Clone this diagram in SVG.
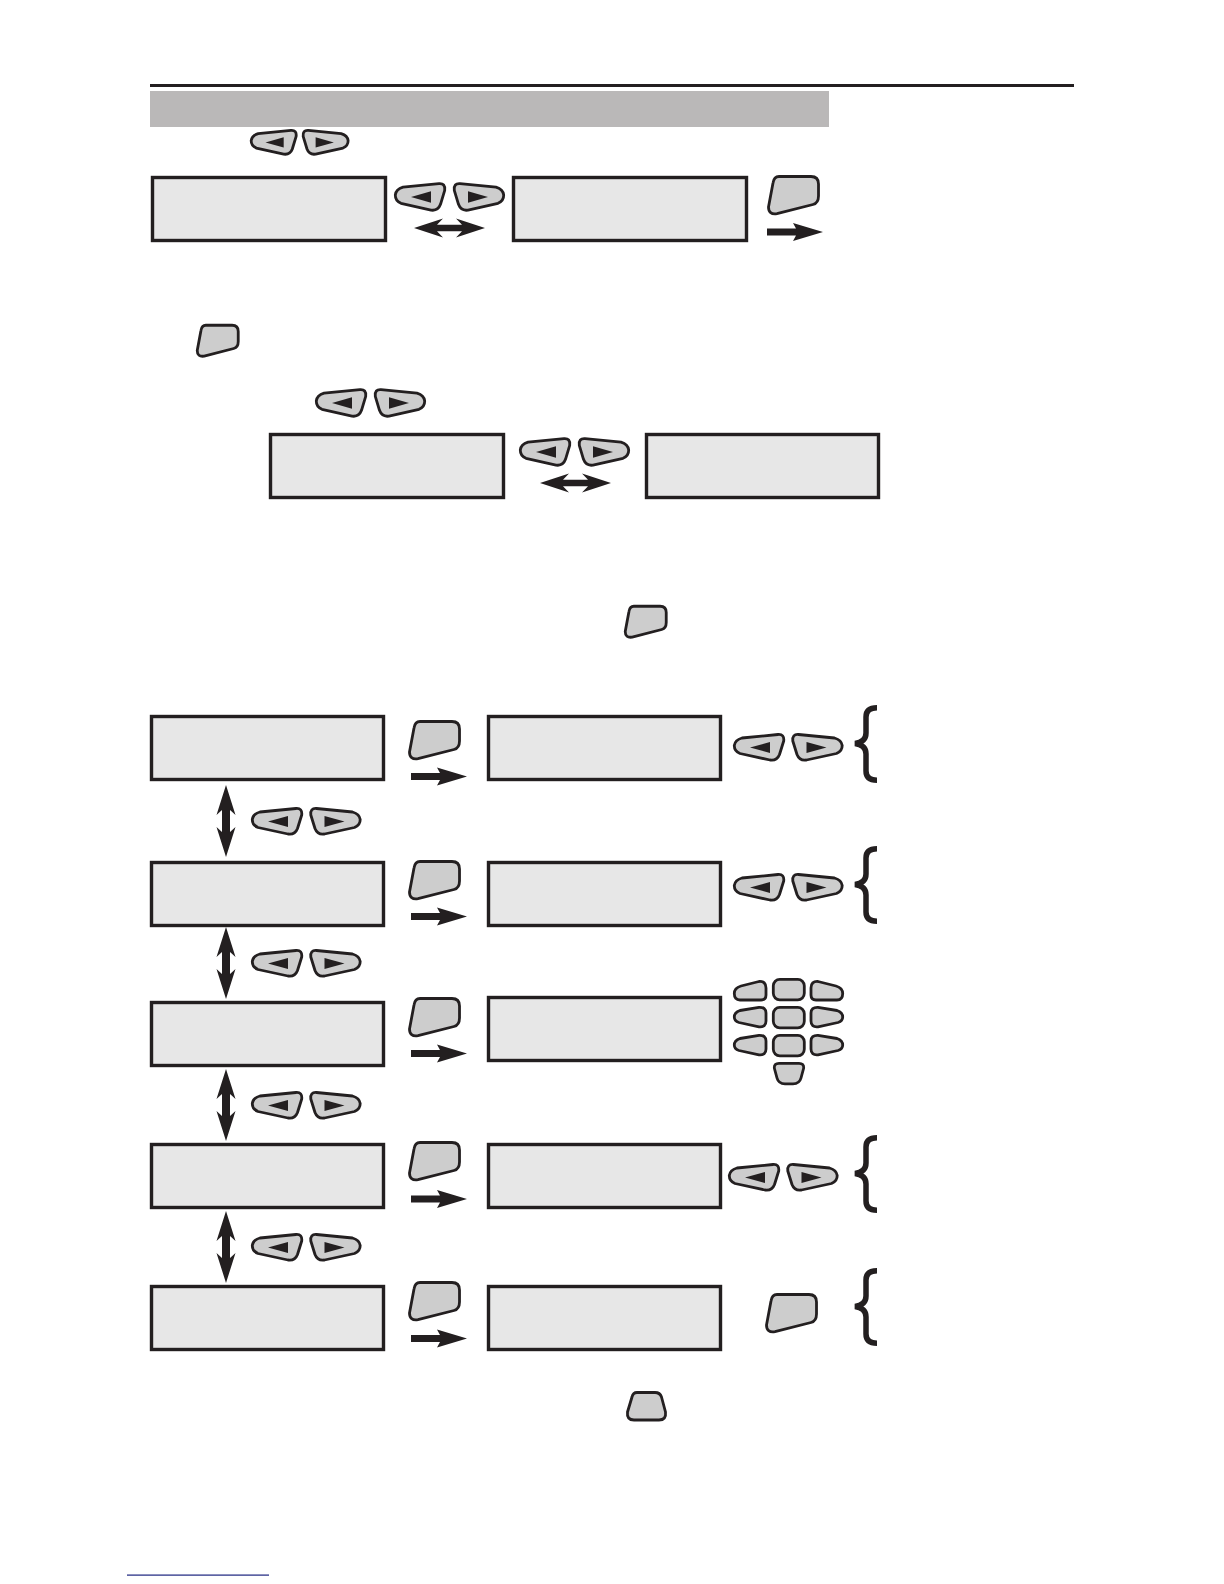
<svg xmlns="http://www.w3.org/2000/svg" width="1224" height="1584" viewBox="0 0 1224 1584">
<style>
.lcd{fill:#e7e7e7;stroke:#231f20;stroke-width:3.400}
.k{fill:#cdcdcd;stroke:#231f20;stroke-width:2.800;vector-effect:non-scaling-stroke;stroke-linejoin:round}
.t{fill:#231f20}
.c{fill:#231f20}
</style>
<defs>
<g id="kl"><path class="k" d="M9 5 L45 1.500 Q51.500 1 50.700 8 L46.500 21.500 Q44 28 37 27 L7 20.500 Q1.200 18 1.300 12.500 Q2 7 9 5Z"/><path class="t" d="M17 14.500 L37 9 V20Z"/></g>
<g id="kr"><path class="k" d="M43 5 L7 1.500 Q0.500 1 1.300 8 L5.500 21.500 Q8 28 15 27 L45 20.500 Q50.800 18 50.700 12.500 Q50 7 43 5Z"/><path class="t" d="M35 14.500 L15 9 V20Z"/></g>
<path id="ok" class="k" d="M12 1.500 H44 Q51.500 1.500 51.500 9 V21 Q51.500 28 46 29.500 L10 38.700 Q1.500 40 1.500 32 L6 8 Q7 1.500 12 1.500Z"/>
<path id="ra" class="c" d="M0 -3.500 H29 L26 -9 L56 0 L26 9 L29 3.500 H0Z"/>
<path id="da" class="c" d="M0 0 L29 -9.500 L23 -3.300 H48 L42 -9.500 L71 0 L42 9.500 L48 3.300 H23 L29 9.500Z"/>
<path id="va" class="c" d="M0 0 L9.500 30 L4 25 V47 L9.500 42 L0 72 L-9.500 42 L-4 47 V25 L-9.500 30Z"/>
<path id="br" fill="none" stroke="#231f20" stroke-width="5.500" d="M23 2.800 Q12 2.800 12 12 V28 Q12 37 1 38.500 Q12 40 12 49 V66 Q12 75.200 23 75.200"/>
<path id="pa" class="k" d="M8 6 L26 1.500 Q33 1 33 8 V15 Q33 20 28 20 H7 Q1.300 20 1.300 13.500 Q1.300 8 8 6Z"/>
<path id="pb" class="k" d="M26 6 L8 1.500 Q1 1 1 8 V15 Q1 20 6 20 H27 Q32.700 20 32.700 13.500 Q32.700 8 26 6Z"/>
<path id="pc" class="k" d="M7 4.500 L26 1.300 Q33 1 33 7 V15 Q33 21.500 26 20.800 L6 16.500 Q1.300 15 1.300 11 Q1.300 6.500 7 4.500Z"/>
<path id="pd" class="k" d="M27 4.500 L8 1.300 Q1 1 1 7 V15 Q1 21.500 8 20.800 L28 16.500 Q32.700 15 32.700 11 Q32.700 6.500 27 4.500Z"/>
<rect id="pe" class="k" x="1.300" y="1.300" width="31" height="20.500" rx="6.500"/>
<path id="pf" class="k" d="M6 1.300 H26 Q31 1.300 30.700 6 L28 16 Q26.500 21.800 20 21.800 H12 Q5.500 21.800 4 16 L1.300 6 Q1 1.300 6 1.300Z"/>
</defs>

<g id="header">
<rect x="150" y="84" width="924" height="3" fill="#231f20"/>
<rect x="150" y="91" width="679" height="36" fill="#bab8b8"/>
</g>

<g id="displays">
<rect id="lcd-a" class="lcd" x="152.500" y="177.500" width="233" height="63"/>
<rect id="lcd-b" class="lcd" x="513.500" y="177.500" width="233" height="63"/>
<rect id="lcd-c" class="lcd" x="270.500" y="434.500" width="233" height="63"/>
<rect id="lcd-d" class="lcd" x="646.500" y="434.500" width="232" height="63"/>
<rect id="lcd-l1" class="lcd" x="151.500" y="716.500" width="232" height="63"/>
<rect id="lcd-l2" class="lcd" x="151.500" y="862.500" width="232" height="63"/>
<rect id="lcd-l3" class="lcd" x="151.500" y="1002.500" width="232" height="63"/>
<rect id="lcd-l4" class="lcd" x="151.500" y="1144.500" width="232" height="63"/>
<rect id="lcd-l5" class="lcd" x="151.500" y="1286.500" width="232" height="63"/>
<rect id="lcd-r1" class="lcd" x="488.500" y="716.500" width="232" height="63"/>
<rect id="lcd-r2" class="lcd" x="488.500" y="862.500" width="232" height="63"/>
<rect id="lcd-r3" class="lcd" x="488.500" y="997.500" width="232" height="63"/>
<rect id="lcd-r4" class="lcd" x="488.500" y="1144.500" width="232" height="63"/>
<rect id="lcd-r5" class="lcd" x="488.500" y="1286.500" width="232" height="63"/>
</g>

<g id="connectors">
<use href="#da" transform="translate(414,228)"/>
<use href="#da" transform="translate(540,483)"/>
<use href="#ra" transform="translate(767,232)"/>
<use href="#ra" transform="translate(411,776.500)"/>
<use href="#ra" transform="translate(411,916.500)"/>
<use href="#ra" transform="translate(411,1053.500)"/>
<use href="#ra" transform="translate(411,1199)"/>
<use href="#ra" transform="translate(411,1338.500)"/>
<use href="#va" transform="translate(226,785)"/>
<use href="#va" transform="translate(226,927)"/>
<use href="#va" transform="translate(226,1069)"/>
<use href="#va" transform="translate(226,1211)"/>
</g>

<g id="keys-arrows">
<g id="pair-a"><use href="#kl" transform="translate(250,129) scale(.91,.93)"/><use href="#kr" transform="translate(302,129) scale(.91,.93)"/></g>
<g id="pair-b"><use href="#kl" transform="translate(394,182) scale(1,1.04)"/><use href="#kr" transform="translate(453,182) scale(1,1.04)"/></g>
<g id="pair-c"><use href="#kl" transform="translate(315,388) scale(1,1.04)"/><use href="#kr" transform="translate(374,388) scale(1,1.04)"/></g>
<g id="pair-d"><use href="#kl" transform="translate(519,437) scale(1,1.04)"/><use href="#kr" transform="translate(578,437) scale(1,1.04)"/></g>
<g id="pair-e"><use href="#kl" transform="translate(251,807)"/><use href="#kr" transform="translate(309.500,807)"/></g>
<g id="pair-f"><use href="#kl" transform="translate(251,949)"/><use href="#kr" transform="translate(309.500,949)"/></g>
<g id="pair-g"><use href="#kl" transform="translate(251,1091)"/><use href="#kr" transform="translate(309.500,1091)"/></g>
<g id="pair-h"><use href="#kl" transform="translate(251,1233)"/><use href="#kr" transform="translate(309.500,1233)"/></g>
<g id="pair-i"><use href="#kl" transform="translate(733,733)"/><use href="#kr" transform="translate(791.500,733)"/></g>
<g id="pair-j"><use href="#kl" transform="translate(733,873)"/><use href="#kr" transform="translate(791.500,873)"/></g>
<g id="pair-k"><use href="#kl" transform="translate(728,1163)"/><use href="#kr" transform="translate(786.500,1163)"/></g>
</g>

<g id="keys-ok">
<use id="ok-1" href="#ok" transform="translate(767,175)"/>
<use id="ok-2" href="#ok" transform="translate(196,324) scale(.82,.83)"/>
<use id="ok-3" href="#ok" transform="translate(624,605) scale(.82,.83)"/>
<use id="ok-4" href="#ok" transform="translate(408,720)"/>
<use id="ok-5" href="#ok" transform="translate(408,860)"/>
<use id="ok-6" href="#ok" transform="translate(408,997)"/>
<use id="ok-7" href="#ok" transform="translate(408,1141)"/>
<use id="ok-8" href="#ok" transform="translate(408,1281)"/>
<use id="ok-9" href="#ok" transform="translate(765,1293)"/>
<path id="key-bottom" class="k" d="M637 1392.500 H655 Q660 1392.500 661.500 1397 L665.500 1412 Q666.500 1420 659 1420 H634 Q626.500 1420 627.500 1412 L632 1397 Q633 1392.500 637 1392.500Z"/>
</g>

<g id="keypad">
<use href="#pa" transform="translate(733,980)"/>
<use href="#pe" transform="translate(772,978)"/>
<use href="#pb" transform="translate(810,980)"/>
<use href="#pc" transform="translate(733,1006)"/>
<use href="#pe" transform="translate(772,1006)"/>
<use href="#pd" transform="translate(810,1006)"/>
<use href="#pc" transform="translate(733,1034)"/>
<use href="#pe" transform="translate(772,1034)"/>
<use href="#pd" transform="translate(810,1034)"/>
<use href="#pf" transform="translate(773,1062)"/>
</g>

<g id="braces">
<use href="#br" transform="translate(854,705)"/>
<use href="#br" transform="translate(854,846)"/>
<use href="#br" transform="translate(854,1135)"/>
<use href="#br" transform="translate(854,1268)"/>
</g>

<rect id="footer-line" x="127" y="1574.500" width="142" height="1.200" fill="#1a237e"/>
</svg>
